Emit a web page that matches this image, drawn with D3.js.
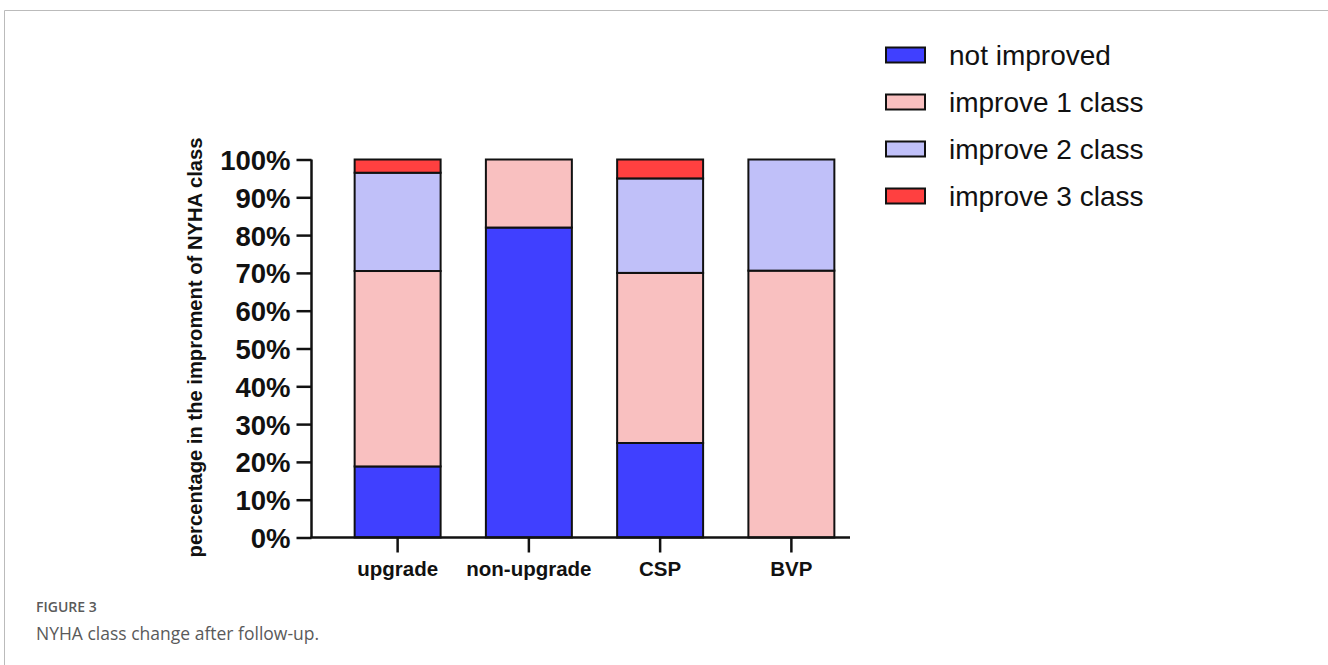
<!DOCTYPE html>
<html><head><meta charset="utf-8">
<script src="https://cdn.jsdelivr.net/npm/d3@7"></script>
<style>body{margin:0;background:#fff;}svg{display:block;}</style>
</head><body>
<svg id="c" width="1328" height="665"></svg>
<script>
const categories = ["upgrade", "non-upgrade", "CSP", "BVP"];
const seriesNames = ["not improved", "improve 1 class", "improve 2 class", "improve 3 class"];
const notImproved = [18.8, 82, 25, 0];
const improve1 = [51.7, 18, 45, 70.6];
const improve2 = [26, 0, 25, 29.4];
const improve3 = [3.5, 0, 5, 0];
const colors = ["#4040FF", "#F9C0C0", "#C0C0F9", "#FF4040"];
const yTicks = [0,10,20,30,40,50,60,70,80,90,100];
const yTitle = "percentage in the improment of NYHA class";

const svg = d3.select("#c");
// frame
svg.append("path").attr("d","M4.5,665 V10.5 H1328").attr("fill","none").attr("stroke","#bbb").attr("stroke-width",1);

const table = categories.map((c,i)=>({cat:c, "not improved":notImproved[i], "improve 1 class":improve1[i], "improve 2 class":improve2[i], "improve 3 class":improve3[i]}));
const stack = d3.stack().keys(seriesNames)(table);

const y = d3.scaleLinear().domain([0,100]).range([537.5,159.5]);
const x = d3.scaleBand().domain(categories).range([332,857]).paddingInner(0.345).paddingOuter(0.1725);

const g = svg.append("g");
stack.forEach((s,si)=>{
  g.selectAll(null).data(s.filter(d=>d[1]-d[0]>0)).enter().append("rect")
    .attr("x",d=>x(d.data.cat)).attr("width",x.bandwidth())
    .attr("y",d=>y(d[1])).attr("height",d=>y(d[0])-y(d[1]))
    .attr("fill",colors[si]).attr("stroke","#111").attr("stroke-width",2);
});

// y axis
const ya = svg.append("g").attr("transform","translate(311.5,0)")
  .call(d3.axisLeft(y).tickValues(yTicks).tickFormat(d=>d+"%").tickSize(15).tickPadding(6));
ya.select(".domain").attr("stroke","#111").attr("stroke-width",2.5).attr("d","M0,"+y(100)+"V"+y(0));
ya.selectAll(".tick line").attr("stroke","#111").attr("stroke-width",2.5);
ya.selectAll(".tick text").attr("font-family","Liberation Sans, Arial, sans-serif").attr("font-weight","bold").attr("font-size",27.5).attr("fill","#111").attr("dy","0.36em");

// x axis
const xa = svg.append("g").attr("transform","translate(0,"+y(0)+")")
  .call(d3.axisBottom(x).tickSize(15).tickPadding(9));
xa.select(".domain").attr("stroke","#111").attr("stroke-width",2.5).attr("d","M310.5,0H850");
xa.selectAll(".tick line").attr("stroke","#111").attr("stroke-width",2.5);
xa.selectAll(".tick text").attr("font-family","Liberation Sans, Arial, sans-serif").attr("font-weight","bold").attr("font-size",20.5).attr("fill","#111");

// y title
svg.append("text").attr("transform","translate(202,347.5) rotate(-90)")
  .attr("text-anchor","middle").attr("font-family","Liberation Sans, Arial, sans-serif")
  .attr("font-weight","bold").attr("font-size",20.2).attr("fill","#111").text(yTitle);

// legend
const lg = svg.append("g");
seriesNames.forEach((n,i)=>{
  const cy = 55 + i*47;
  lg.append("rect").attr("x",886).attr("y",cy-7.5).attr("width",39).attr("height",15)
    .attr("fill",colors[i]).attr("stroke","#111").attr("stroke-width",2);
  lg.append("text").attr("x",949).attr("y",cy).attr("dy","0.36em")
    .attr("font-family","Liberation Sans, Arial, sans-serif").attr("font-size",28).attr("fill","#111").text(n);
});

// caption
svg.append("text").attr("x",36).attr("y",612).attr("font-family","Open Sans, sans-serif").attr("font-weight",600)
  .attr("font-size",14).attr("fill","#5a5a5a").text("FIGURE 3");
svg.append("text").attr("x",36).attr("y",640).attr("font-family","Open Sans, sans-serif")
  .attr("font-size",17.5).attr("fill","#5a5a5a").text("NYHA class change after follow-up.");
</script>
</body></html>
